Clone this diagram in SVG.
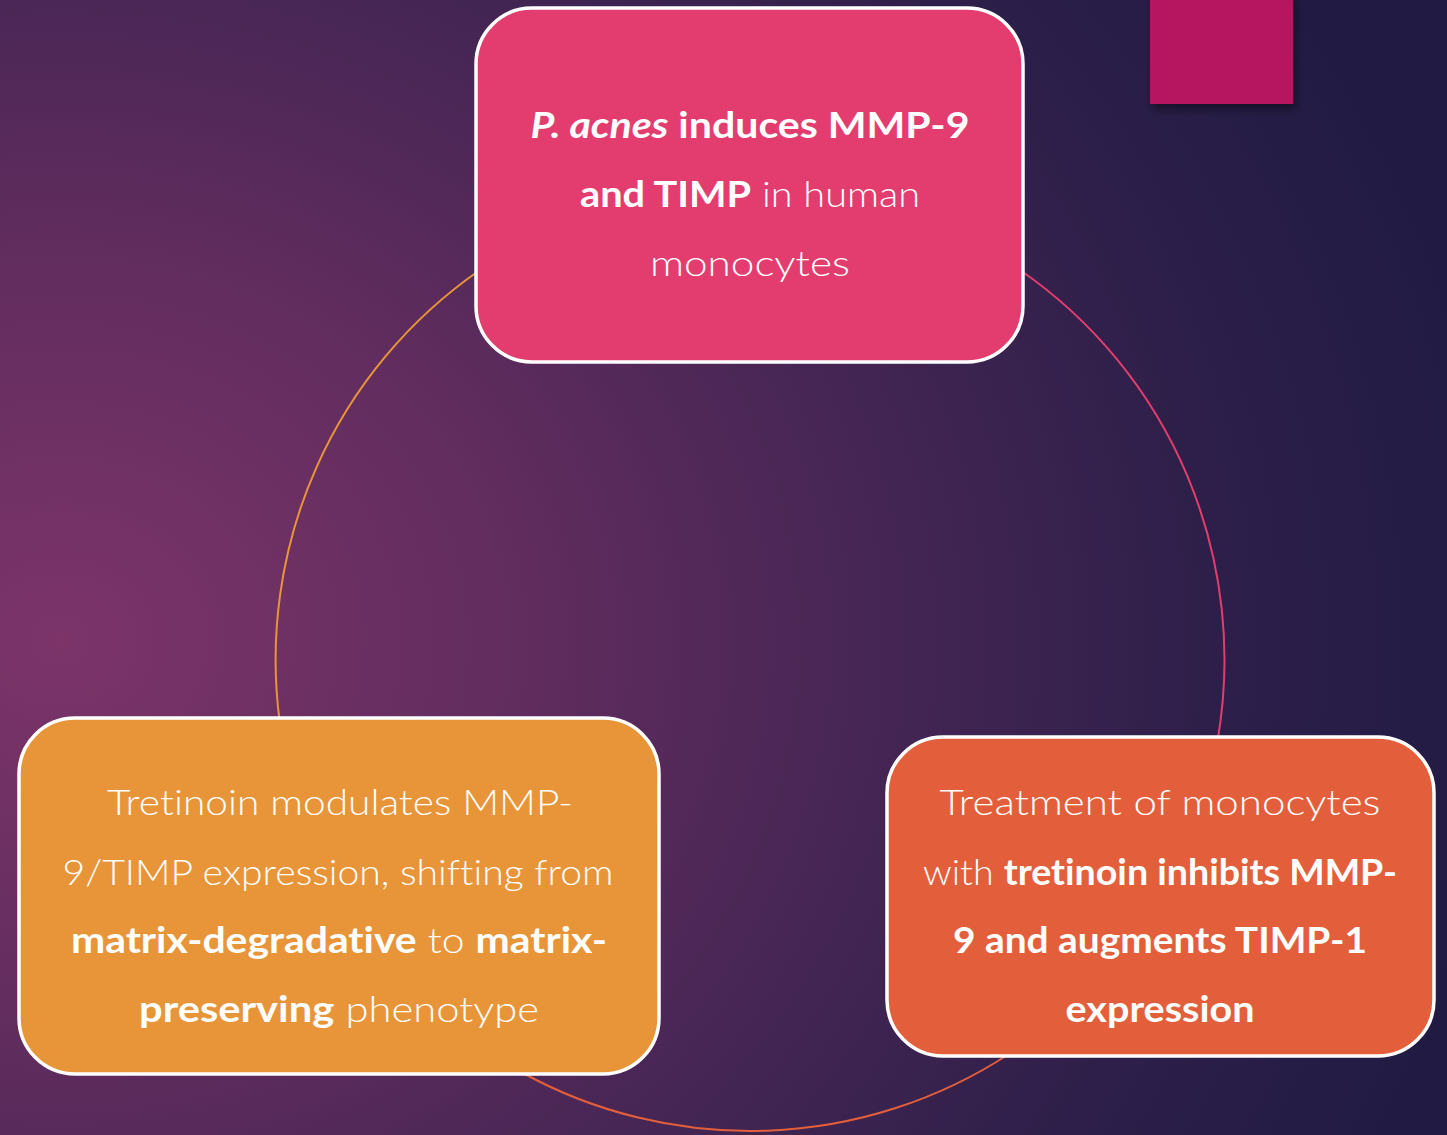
<svg xmlns="http://www.w3.org/2000/svg" width="1447" height="1135" viewBox="0 0 1447 1135">
  <defs>
    <radialGradient id="bg" cx="60" cy="640" r="1450" gradientUnits="userSpaceOnUse" gradientTransform="translate(60 640) scale(1 0.85) translate(-60 -640)">
      <stop offset="0" stop-color="#7c3469"/>
      <stop offset="0.3" stop-color="#632d5f"/>
      <stop offset="0.55" stop-color="#472655"/>
      <stop offset="0.8" stop-color="#2d1f49"/>
      <stop offset="1" stop-color="#211b43"/>
    </radialGradient>
    <filter id="shadow" x="-20%" y="-20%" width="150%" height="150%">
      <feDropShadow dx="3" dy="5" stdDeviation="4" flood-color="#000" flood-opacity="0.45"/>
    </filter>
    <style>
      .box { stroke: #ffffff; stroke-width: 3.5; }
      .arc { fill: none; stroke-width: 2; }
      .t { font-family: "Lato", "Liberation Sans", sans-serif; font-size: 36px; fill: #ffffff; text-anchor: middle; font-variant-ligatures: none; font-feature-settings: "liga" 0; }
      .n { font-weight: 300; }
      .b { font-weight: 700; }
      .i { font-style: italic; }
    </style>
  </defs>

  <rect x="0" y="0" width="1447" height="1135" fill="url(#bg)"/>
  <rect x="1150" y="-6" width="143" height="110" fill="#b5135f" filter="url(#shadow)"/>

  <g id="connectors">
    <path class="arc" stroke="#e8953a" d="M 480 270 A 474 474 0 0 0 279.7 722"/>
    <path class="arc" stroke="#e33d6f" d="M 1020 270 A 474 474 0 0 1 1217.5 741"/>
    <path class="arc" stroke="#e35f3b" d="M 1009 1054 A 474 474 0 0 1 521 1072"/>
  </g>

  <g id="node-top">
    <rect class="box" x="476" y="8" width="547" height="354" rx="56" fill="#e33d6f"/>
    <text class="t" x="750" y="138" textLength="439" lengthAdjust="spacingAndGlyphs"><tspan class="b i">P. acnes</tspan><tspan class="b"> induces MMP-9</tspan></text>
    <text class="t" x="750" y="207" textLength="340" lengthAdjust="spacingAndGlyphs"><tspan class="b">and TIMP</tspan><tspan class="n"> in human</tspan></text>
    <text class="t n" x="750" y="276" textLength="200" lengthAdjust="spacingAndGlyphs">monocytes</text>
  </g>

  <g id="node-left">
    <rect class="box" x="19" y="718" width="640" height="356" rx="56" fill="#e8953a"/>
    <text class="t n" x="340" y="815" textLength="466" lengthAdjust="spacingAndGlyphs">Tretinoin modulates MMP-</text>
    <text class="t n" x="338" y="885" textLength="551" lengthAdjust="spacingAndGlyphs">9/TIMP expression, shifting from</text>
    <text class="t" x="339" y="953" textLength="536" lengthAdjust="spacingAndGlyphs"><tspan class="b">matrix-degradative</tspan><tspan class="n"> to </tspan><tspan class="b">matrix-</tspan></text>
    <text class="t" x="339" y="1022" textLength="400" lengthAdjust="spacingAndGlyphs"><tspan class="b">preserving</tspan><tspan class="n"> phenotype</tspan></text>
  </g>

  <g id="node-right">
    <rect class="box" x="887" y="737" width="547" height="319" rx="56" fill="#e35f3b"/>
    <text class="t n" x="1160" y="815" textLength="441" lengthAdjust="spacingAndGlyphs">Treatment of monocytes</text>
    <text class="t" x="1160" y="885" textLength="474" lengthAdjust="spacingAndGlyphs"><tspan class="n">with </tspan><tspan class="b">tretinoin inhibits MMP-</tspan></text>
    <text class="t b" x="1160" y="953" textLength="414" lengthAdjust="spacingAndGlyphs">9 and augments TIMP-1</text>
    <text class="t b" x="1160" y="1022" textLength="189" lengthAdjust="spacingAndGlyphs">expression</text>
  </g>
</svg>
